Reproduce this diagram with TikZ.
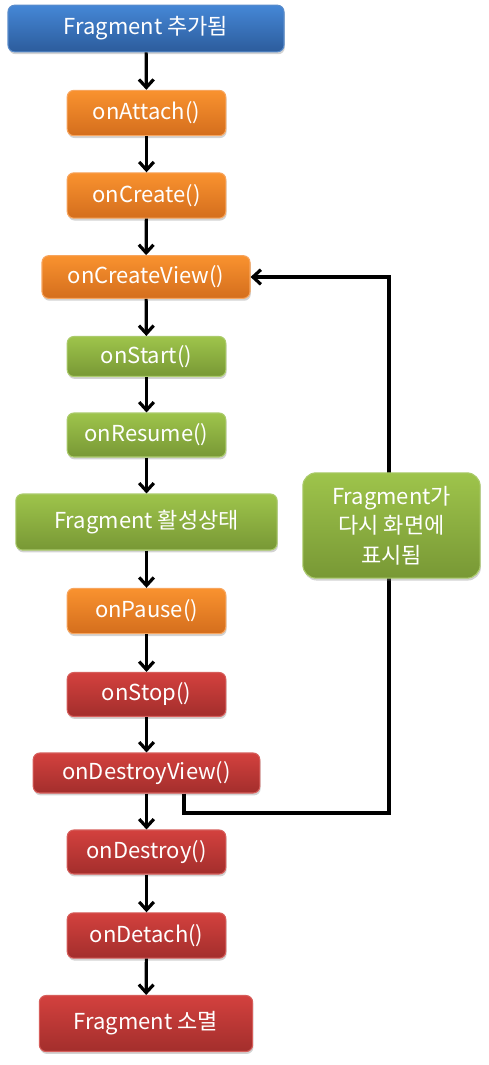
\documentclass[tikz,border=0pt]{standalone}
\usepackage{fontspec}
\setmainfont{Noto Sans CJK KR}
\usetikzlibrary{arrows.meta,positioning,shadows}
\definecolor{bluetop}{HTML}{4587D6}
\definecolor{bluebot}{HTML}{2C5C9C}
\definecolor{blueln}{HTML}{5A8CCB}
\definecolor{orgtop}{HTML}{F9922F}
\definecolor{orgbot}{HTML}{D46E1D}
\definecolor{orgln}{HTML}{F7A55E}
\definecolor{grntop}{HTML}{9EC44B}
\definecolor{grnbot}{HTML}{789835}
\definecolor{grnln}{HTML}{ABCB6C}
\definecolor{redtop}{HTML}{D3413E}
\definecolor{redbot}{HTML}{A32E2C}
\definecolor{redln}{HTML}{D65E5B}
\tikzset{
  stage/.style={rounded corners=5pt,line width=0.8pt,align=center,text=white,
    font=\fontsize{16.5}{22}\selectfont,inner sep=2pt,minimum width=119pt,minimum height=34pt,
    drop shadow={opacity=0.35,shadow xshift=0.6pt,shadow yshift=-1.8pt}},
  blu/.style={stage,top color=bluetop,bottom color=bluebot,draw=blueln},
  org/.style={stage,top color=orgtop,bottom color=orgbot,draw=orgln},
  grn/.style={stage,top color=grntop,bottom color=grnbot,draw=grnln},
  rd/.style={stage,top color=redtop,bottom color=redbot,draw=redln},
  arr/.style={-{Straight Barb[length=6pt,width=11pt,line width=2.4pt]},line width=2.4pt,black},
}
\begin{document}
\begin{tikzpicture}[x=0.75pt,y=-0.75pt]
  \useasboundingbox (0,0) rectangle (489,1065);
  % main column
  \node[blu,minimum width=207pt,minimum height=35pt] (added) at (146,28.5) {Fragment 추가됨};
  \node[org] (attach) at (146.5,113) {onAttach()};
  \node[org] (create) at (146.5,195.5) {onCreate()};
  \node[org,minimum width=156pt,minimum height=32pt] (createview) at (146,277) {onCreateView()};
  \node[grn,minimum height=30pt] (start) at (146.5,356.5) {onStart()};
  \node[grn,minimum height=33pt] (resume) at (146.5,435) {onResume()};
  \node[grn,minimum width=196pt,minimum height=42pt] (active) at (146.5,522) {Fragment 활성상태};
  \node[org] (pause) at (146.5,611) {onPause()};
  \node[rd,minimum height=33pt] (stop) at (146.5,694.5) {onStop()};
  \node[rd,minimum width=170pt,minimum height=30pt] (destroyview) at (146.5,773) {onDestroyView()};
  \node[rd,minimum height=33pt] (destroy) at (146.5,852) {onDestroy()};
  \node[rd] (detach) at (146.5,935.5) {onDetach()};
  \node[rd,minimum width=160pt,minimum height=42pt] (gone) at (146,1023.5) {Fragment 소멸};
  \foreach \a/\b in {added/attach,attach/create,create/createview,createview/start,start/resume,
    resume/active,active/pause,pause/stop,stop/destroyview,destroyview/destroy,destroy/detach,detach/gone}
    \draw[arr] (\a) -- (\b);
  % back loop
  \coordinate (turn) at (184,813);
  \coordinate (back) at (389,813);
  \draw[arr,line width=2.8pt] (destroyview.south -| turn) -- (turn) -- (back) |- (createview.east);
  \node[grn,rounded corners=10pt,minimum width=133pt,minimum height=79pt] (again) at (391.5,525.5)
    {Fragment가\\다시 화면에\\표시됨};
\end{tikzpicture}
\end{document}
